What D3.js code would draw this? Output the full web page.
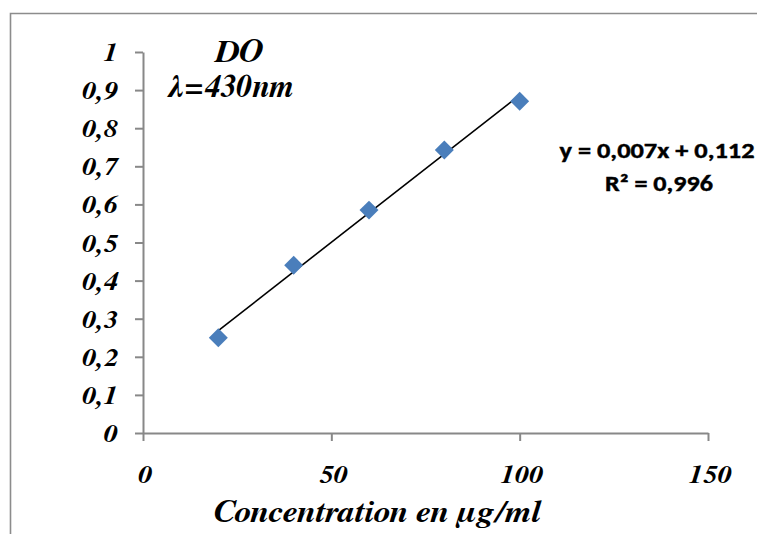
<!DOCTYPE html>
<html>
<head>
<meta charset="utf-8">
<script src="https://cdn.jsdelivr.net/npm/d3@7/dist/d3.min.js"></script>
<style>
  html, body { margin: 0; padding: 0; background: #fff; }
  svg { display: block; }
  .serif { font-family: FreeSerif, "Liberation Serif", serif; font-weight: 700; font-style: italic; }
  .sans { font-family: Carlito, Lato, sans-serif; font-weight: 700; stroke: #000; stroke-width: 0.4px; }
</style>
</head>
<body>
<svg id="chart" width="757" height="534"></svg>
<script>
// Calibration data: absorbance (DO at 430 nm) vs concentration
const concentrations = [20, 40, 60, 80, 100];
const absorbances = [0.25, 0.44, 0.585, 0.743, 0.871];
const xTicks = [0, 50, 100, 150];
const yTicks = [0, 0.1, 0.2, 0.3, 0.4, 0.5, 0.6, 0.7, 0.8, 0.9, 1];
const equationText = "y = 0,007x + 0,112";
const r2Text = "R² = 0,996";

const svg = d3.select("#chart");
const W = 757, H = 534;

// outer frame (left and top edges visible)
svg.append("path")
  .attr("d", `M10.5,${H} L10.5,13.5 L${W},13.5`)
  .attr("fill", "none")
  .attr("stroke", "#8c8c8c")
  .attr("stroke-width", 1.6);

const x = d3.scaleLinear().domain([0, 150]).range([143, 708]);
const y = d3.scaleLinear().domain([0, 1]).range([433, 52]);

const fmt = d => String(d).replace(".", ",");
const sx = 1.1; // horizontal stretch of the axis lettering

// Y axis
const yAxis = svg.append("g")
  .attr("transform", `translate(${x(0)},0)`)
  .call(d3.axisLeft(y).tickValues(yTicks).tickSize(8).tickSizeOuter(0).tickFormat(fmt));

// X axis
const xAxis = svg.append("g")
  .attr("transform", `translate(0,${y(0)})`)
  .call(d3.axisBottom(x).tickValues(xTicks).tickSize(8).tickSizeOuter(0).tickFormat(fmt));

[yAxis, xAxis].forEach(g => {
  g.attr("font-family", null).attr("font-size", null);
  g.select(".domain").attr("stroke", "#888").attr("stroke-width", 2);
  g.selectAll(".tick line").attr("stroke", "#888").attr("stroke-width", 2);
  g.selectAll(".tick text")
    .attr("fill", "#000")
    .attr("class", "serif")
    .style("font-size", "26px");
});

yAxis.selectAll(".tick text")
  .attr("x", -25 / sx)
  .attr("dy", "0.33em")
  .attr("transform", `scale(${sx},1)`);

xAxis.selectAll(".tick text")
  .attr("y", 0)
  .attr("dy", 0)
  .attr("transform", `translate(2,50) scale(${sx},1)`);

// least-squares trend line through the calibration points
const mx = d3.mean(concentrations), my = d3.mean(absorbances);
let sxy = 0, sxx = 0;
concentrations.forEach((c, i) => {
  sxy += (c - mx) * (absorbances[i] - my);
  sxx += (c - mx) * (c - mx);
});
const slope = sxy / sxx, intercept = my - slope * mx;
const xMin = d3.min(concentrations), xMax = d3.max(concentrations);

svg.append("line")
  .attr("x1", x(xMin)).attr("y1", y(slope * xMin + intercept))
  .attr("x2", x(xMax)).attr("y2", y(slope * xMax + intercept))
  .attr("stroke", "#000")
  .attr("stroke-width", 1.6);

// diamond markers
svg.append("g").selectAll("path")
  .data(concentrations.map((c, i) => [c, absorbances[i]]))
  .join("path")
  .attr("d", d3.symbol().type(d3.symbolSquare).size(180))
  .attr("transform", d => `translate(${x(d[0])},${y(d[1])}) rotate(45)`)
  .attr("fill", "#4a7ebb");

function label(txt, cx, cy, size, cls, anchor, width) {
  const t = svg.append("text")
    .attr("x", cx).attr("y", cy)
    .attr("text-anchor", anchor)
    .attr("class", cls)
    .style("font-size", size + "px")
    .attr("fill", "#000")
    .text(txt);
  if (width) t.attr("textLength", width).attr("lengthAdjust", "spacingAndGlyphs");
  return t;
}

// title block
label("DO", 238, 62, 32, "serif", "middle", 48);
label("λ=430nm", 230, 97, 32, "serif", "middle", 126);

// axis title
label("Concentration en  µg/ml", 377, 522, 31, "serif", "middle", 327);

// regression equation
label(equationText, 657, 158, 22, "sans", "middle", 195);
label(r2Text, 659, 191, 22, "sans", "middle", 108);
</script>
</body>
</html>
